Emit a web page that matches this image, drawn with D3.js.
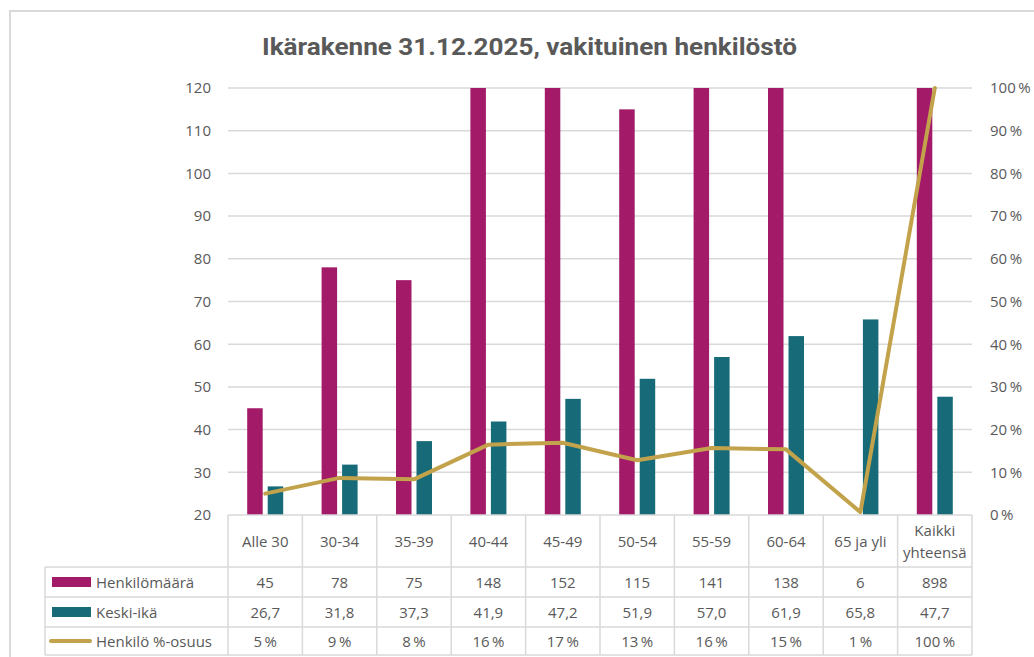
<!DOCTYPE html>
<html>
<head>
<meta charset="utf-8">
<script src="https://cdn.jsdelivr.net/npm/d3@7"></script>
<style>
  html, body { margin: 0; padding: 0; background: #fff; }
  svg { display: block; }
  text { font-family: "Open Sans", "Noto Sans", sans-serif; fill: #595959; }
</style>
</head>
<body>
<svg id="chart" width="1034" height="657"></svg>
<script>
// ---- data ----
const categories = ["Alle 30", "30-34", "35-39", "40-44", "45-49", "50-54", "55-59", "60-64", "65 ja yli", "Kaikki yhteensä"];
const henkilomaara = [45, 78, 75, 148, 152, 115, 141, 138, 6, 898];
const keskiIka = [26.7, 31.8, 37.3, 41.9, 47.2, 51.9, 57.0, 61.9, 65.8, 47.7];
const osuus = [5.01, 8.69, 8.35, 16.48, 16.93, 12.81, 15.70, 15.37, 0.67, 100];
const leftTicks = [20, 30, 40, 50, 60, 70, 80, 90, 100, 110, 120];
const rightTicks = [0, 10, 20, 30, 40, 50, 60, 70, 80, 90, 100];
const seriesNames = ["Henkilömäärä", "Keski-ikä", "Henkilö %-osuus"];
const titleText = "Ikärakenne 31.12.2025, vakituinen henkilöstö";

// ---- layout ----
const colors = { bar1: "#A21A68", bar2: "#176B78", line: "#C3A24C", grid: "#D9D9D9", text: "#595959" };
const plot = { left: 228, right: 972, top: 88, bottom: 515 };
const tableRows = [515, 567, 597, 627, 655];
const tableLeft = 45;
const fs = "15px";
const pct = v => v + "\u2009%";

const svg = d3.select("#chart");

// outer border
svg.append("rect").attr("x", 10).attr("y", 11).attr("width", 1100).attr("height", 700)
  .attr("fill", "none").attr("stroke", colors.grid).attr("stroke-width", 2);

// title
svg.append("text").attr("x", 262).attr("y", 55)
  .attr("textLength", 535).attr("lengthAdjust", "spacingAndGlyphs")
  .style("font-family", "'Roboto', 'Liberation Sans', sans-serif")
  .style("font-weight", "bold").style("font-size", "24px").style("fill", colors.text)
  .text(titleText);

const x = d3.scaleBand().domain(categories).range([plot.left, plot.right]).padding(0);
const yL = d3.scaleLinear().domain([20, 120]).range([plot.bottom, plot.top]);
const yR = d3.scaleLinear().domain([0, 100]).range([plot.bottom, plot.top]);

// gridlines
svg.append("g").selectAll("line").data(leftTicks.slice(1)).join("line")
  .attr("x1", plot.left).attr("x2", plot.right)
  .attr("y1", d => yL(d)).attr("y2", d => yL(d))
  .attr("stroke", colors.grid).attr("stroke-width", 1.5);

// left axis
const axL = d3.axisLeft(yL).tickValues(leftTicks).tickSize(0).tickPadding(0);
const gL = svg.append("g").attr("transform", `translate(211,0)`).call(axL);
gL.select(".domain").remove();
gL.selectAll("text").style("font-size", fs).style("fill", colors.text)
  .style("font-family", "'Open Sans', sans-serif");

// right axis
const axR = d3.axisRight(yR).tickValues(rightTicks).tickSize(0).tickPadding(0).tickFormat(pct);
const gR = svg.append("g").attr("transform", `translate(990,0)`).call(axR);
gR.select(".domain").remove();
gR.selectAll("text").style("font-size", fs).style("fill", colors.text)
  .style("font-family", "'Open Sans', sans-serif");

// clip
svg.append("clipPath").attr("id", "plotclip").append("rect")
  .attr("x", plot.left).attr("y", plot.top).attr("width", plot.right - plot.left).attr("height", plot.bottom - plot.top);

const bw = 15.5;
const bars = svg.append("g").attr("clip-path", "url(#plotclip)");
const cx = d => x(d) + x.bandwidth() / 2;
bars.selectAll(".b1").data(categories).join("rect").attr("class", "b1")
  .attr("x", d => cx(d) - 18).attr("width", bw)
  .attr("y", (d, i) => yL(Math.max(henkilomaara[i], 20)))
  .attr("height", (d, i) => yL(20) - yL(Math.max(henkilomaara[i], 20)))
  .attr("fill", colors.bar1);
bars.selectAll(".b2").data(categories).join("rect").attr("class", "b2")
  .attr("x", d => cx(d) + 2.5).attr("width", bw)
  .attr("y", (d, i) => yL(keskiIka[i]))
  .attr("height", (d, i) => yL(20) - yL(keskiIka[i]))
  .attr("fill", colors.bar2);

// line
const line = d3.line().x((d, i) => cx(categories[i])).y(d => yR(d));
svg.append("path").datum(osuus).attr("d", line)
  .attr("fill", "none").attr("stroke", colors.line).attr("stroke-width", 4)
  .attr("stroke-linejoin", "round").attr("stroke-linecap", "round");

// table
const tg = svg.append("g");
function hline(x1, x2, y) {
  tg.append("line").attr("x1", x1).attr("x2", x2).attr("y1", y).attr("y2", y)
    .attr("stroke", colors.grid).attr("stroke-width", 1.5);
}
function vline(xx, y1, y2) {
  tg.append("line").attr("x1", xx).attr("x2", xx).attr("y1", y1).attr("y2", y2)
    .attr("stroke", colors.grid).attr("stroke-width", 1.5);
}
hline(plot.left, plot.right, tableRows[0]);
for (let r = 1; r < tableRows.length; r++) hline(tableLeft, plot.right, tableRows[r]);
vline(tableLeft, tableRows[1], tableRows[4]);
categories.forEach(c => vline(x(c), tableRows[0], tableRows[4]));
vline(plot.right, tableRows[0], tableRows[4]);

// header labels
categories.forEach(c => {
  const parts = c === "Kaikki yhteensä" ? ["Kaikki", "yhteensä"] : [c];
  const midY = (tableRows[0] + tableRows[1]) / 2;
  parts.forEach((p, j) => {
    tg.append("text").attr("x", cx(c))
      .attr("y", midY + (j - (parts.length - 1) / 2) * 22)
      .attr("text-anchor", "middle").attr("dominant-baseline", "central")
      .style("font-size", fs).text(p);
  });
});

const rowVals = [
  henkilomaara.map(v => String(v)),
  keskiIka.map(v => v.toFixed(1).replace(".", ",")),
  osuus.map(v => pct(Math.round(v)))
];
rowVals.forEach((vals, r) => {
  const midY = (tableRows[r + 1] + tableRows[r + 2]) / 2;
  vals.forEach((v, i) => {
    tg.append("text").attr("x", cx(categories[i])).attr("y", midY)
      .attr("text-anchor", "middle").attr("dominant-baseline", "central")
      .style("font-size", fs).text(v);
  });
  // legend key
  if (r < 2) {
    tg.append("rect").attr("x", 52).attr("y", midY - 5).attr("width", 39).attr("height", 10)
      .attr("fill", r === 0 ? colors.bar1 : colors.bar2);
  } else {
    tg.append("line").attr("x1", 51).attr("x2", 90).attr("y1", midY).attr("y2", midY)
      .attr("stroke", colors.line).attr("stroke-width", 4).attr("stroke-linecap", "round");
  }
  tg.append("text").attr("x", 96).attr("y", midY).attr("dominant-baseline", "central")
    .style("font-size", fs).text(seriesNames[r]);
});
</script>
</body>
</html>
